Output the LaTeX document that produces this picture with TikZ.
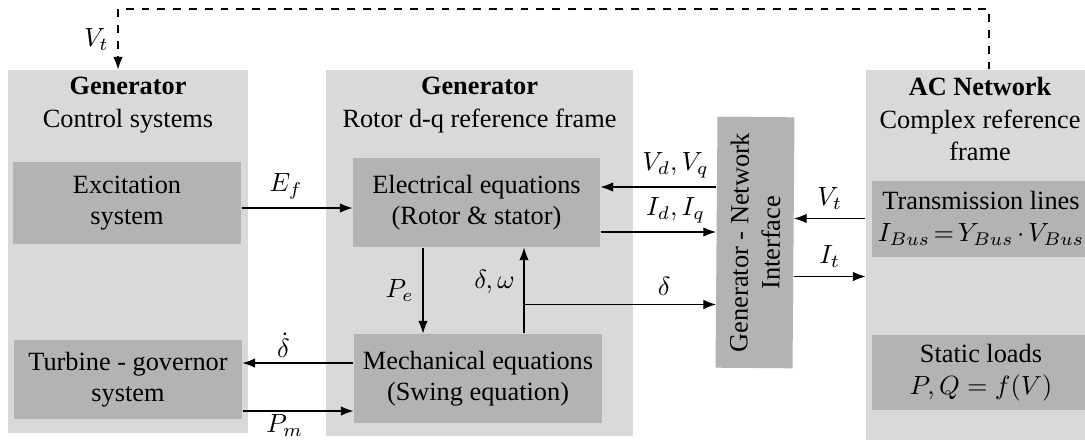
\documentclass[tikz,border=0pt]{standalone}
\usepackage{fontspec}
\setmainfont{Liberation Serif}
\usetikzlibrary{arrows.meta,positioning,calc}

\definecolor{panelgray}{HTML}{D9D9D9}
\definecolor{boxgray}{HTML}{B3B3B3}

\tikzset{
  panel/.style 2 args={fill=panelgray, inner sep=0pt,
    minimum width=#1*0.38pt, minimum height=#2*0.38pt},
  block/.style 2 args={fill=boxgray, align=center, inner sep=0pt,
    minimum width=#1*0.38pt, minimum height=#2*0.38pt},
  title/.style={align=center, inner sep=0pt},
}

\begin{document}
\begin{tikzpicture}[x=0.38pt, y=-0.38pt, >=Latex]
  \useasboundingbox (0,0) rectangle (1085,439);

  % the three frames
  \node[panel={240}{363}] (gctrl) at (128,251.5) {};
  \node[panel={307}{366}] (grotor) at (479.5,253) {};
  \node[panel={228}{378}] (acnet) at (980,259) {};

  \node[title, below=2.8pt of gctrl.north] {\textbf{Generator}\\[0.6pt]Control systems};
  \node[title, below=2.8pt of grotor.north] {\textbf{Generator}\\[0.6pt]Rotor d-q reference frame};
  \node[title, below=2.8pt of acnet.north] {\textbf{AC Network}\\[0.6pt]Complex reference\\frame};

  % blocks
  \node[block={228}{82}] (excit) at (127,203) {Excitation\\system};
  \node[block={228}{79}] (turb) at (128,379.5) {Turbine - governor\\system};
  \node[block={247}{89}] (elec) at (476.5,202.5) {Electrical equations\\(Rotor \& stator)};
  \node[block={248}{89}] (mech) at (478,378.5) {Mechanical equations\\(Swing equation)};
  \node[block={218}{76}] (trans) at (981,218.5)
    {Transmission lines\\$\thickmuskip=2.5mu\medmuskip=2.5mu I_{Bus}=Y_{Bus}\cdot V_{Bus}$};
  \node[block={218}{75}] (loads) at (981,372.5) {Static loads\\$P,Q=f(V)$};
  \node[block={251}{77}, rotate=89.55] (iface) at (755,242.5) {Generator - Network\\Interface};

  % helper points
  \coordinate (ef) at ($(excit.east)+(0,5)$);
  \coordinate (vdq) at ($(elec.east)+(0,-15.5)$);
  \coordinate (idq) at ($(elec.east)+(0,29.5)$);
  \coordinate (pe) at ($(elec.south)+(-53.5,0)$);
  \coordinate (dw) at ($(mech.north)+(46,0)$);
  \coordinate (dbr) at ($(dw)+(0,-29)$);
  \coordinate (dd) at ($(mech.west)+(0,-15.5)$);
  \coordinate (pm) at ($(turb.east)+(0,31.5)$);
  \coordinate (vt) at (acnet.west |- trans.west);
  \coordinate (it) at ($(vt)+(0,58)$);
  \coordinate (fbR) at (989,9);
  \coordinate (fbL) at (118,9);

  % signals
  \draw[->] (ef) -- (ef -| elec.west) node[pos=0.4, above] {$E_f$};
  \draw[->] (vdq -| iface.north) -- (vdq) node[pos=0.35, above] {$V_d, V_q$};
  \draw[->] (idq) -- (idq -| iface.north) node[pos=0.65, above] {$I_d, I_q$};
  \draw[->] (pe) -- (pe |- mech.north) node[midway, left] {$P_e$};
  \draw[->] (dw) -- (dw |- elec.south) node[pos=0.6, left] {$\delta,\omega$};
  \draw[->] (dbr) -- (dbr -| iface.north) node[pos=0.73, above] {$\delta$};
  \draw[->] (dd) -- (dd -| turb.east) node[pos=0.63, above, inner sep=2pt] {$\dot{\delta}$};
  \draw[->] (pm) -- (pm -| mech.west) node[pos=0.38, below, inner sep=1pt] {$P_m$};
  \draw[->] (vt) -- (vt -| iface.south) node[midway, above] {$V_t$};
  \draw[->] (it -| iface.south) -- (it) node[midway, above] {$I_t$};

  % terminal voltage fed back to the controls
  \draw[dashed, ->] (acnet.north -| fbR) |- (fbL) -- (gctrl.north -| fbL)
    node[midway, left] {$V_t$};
\end{tikzpicture}
\end{document}
